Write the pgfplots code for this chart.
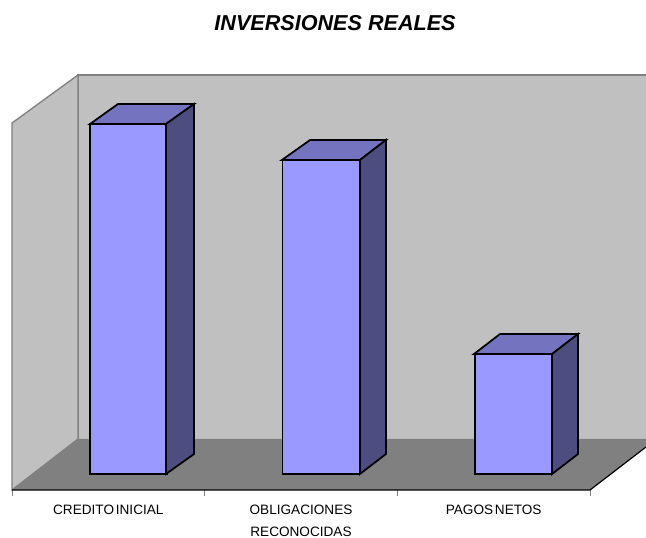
\documentclass[border=0pt]{standalone}
\usepackage{fontspec}
\setmainfont{Liberation Sans}
\usepackage{pgfplots}
\pgfplotsset{compat=1.18}
\definecolor{wall}{HTML}{C0C0C0}
\definecolor{edge}{HTML}{808080}
\definecolor{barfront}{HTML}{9999FF}
\definecolor{bartop}{HTML}{7373BF}
\definecolor{barside}{HTML}{4D4D80}

\begin{document}
\begin{tikzpicture}
% page is 646x538 px at 0.75pt per px
\path[use as bounding box] (0,0) rectangle (484.5pt,403.5pt);
\begin{axis}[
    at={(9pt,36pt)},
    anchor=south west,
    scale only axis,
    width=475.5pt,
    height=311.25pt,
    xmin=-0.5, xmax=2.7906,
    ymin=-16, ymax=399,
    clip=false,
    axis line style={draw=none},
    ytick=\empty,
    xtick pos=bottom,
    xtick={0,1,2},
    xticklabels={{CREDITO\hspace{-1.5pt} INICIAL},{OBLIGACIONES\\RECONOCIDAS},{PAGOS\hspace{-1.5pt} NETOS}},
    x tick label style={font=\fontsize{10.2}{16.5}\selectfont, align=center, anchor=north, yshift=-7.5pt},
    major tick length=0pt,
    extra x ticks={-0.5,0.5,1.5,2.5},
    extra x tick labels={},
    extra x tick style={major tick length=4.5pt, tick align=outside, tick style={draw=edge, line width=0.75pt}},
    title={\textbf{\textit{INVERSIONES REALES}}},
    title style={at={(axis description cs:0.5095,1)}, anchor=center, yshift=33pt, font=\fontsize{16.2}{18}\selectfont},
]

% walls and floor
\addplot[fill=wall, draw=none] coordinates {(-0.1574,399) (2.7906,399) (2.7906,35) (-0.1574,35)} -- cycle;
\addplot[edge, line width=1pt] coordinates {(-0.1574,35) (-0.1574,399) (2.7906,399)};
\addplot[fill=wall, draw=edge, line width=1pt] coordinates {(-0.5,351) (-0.1574,399) (-0.1574,35) (-0.5,-16)} -- cycle;
\addplot[fill=edge, draw=none] coordinates {(-0.5,-16) (-0.1574,35) (2.7906,35) (2.7906,27) (2.5,-16)} -- cycle;
\addplot[black, line width=0.9pt] coordinates {(-0.5,-16) (2.5,-16) (2.7906,27)};

% bars, heights
\addplot[ybar, bar width=57.75pt, bar shift=15pt, fill=barfront, draw=black, line width=1.3pt]
    coordinates {(0,350) (1,314) (2,120)};

% depth faces
\addplot[fill=bartop, draw=black, line width=1.3pt] coordinates {(-0.095,350) (0.299,350) (0.445,370) (0.050,370)} -- cycle;
\addplot[fill=barside, draw=black, line width=1.3pt] coordinates {(0.299,0) (0.445,20) (0.445,370) (0.299,350)} -- cycle;
\addplot[fill=bartop, draw=black, line width=1.3pt] coordinates {(0.901,314) (1.306,314) (1.441,334) (1.047,334)} -- cycle;
\addplot[fill=barside, draw=black, line width=1.3pt] coordinates {(1.306,0) (1.441,20) (1.441,334) (1.306,314)} -- cycle;
\addplot[fill=bartop, draw=black, line width=1.3pt] coordinates {(1.898,120) (2.303,120) (2.438,140) (2.033,140)} -- cycle;
\addplot[fill=barside, draw=black, line width=1.3pt] coordinates {(2.303,0) (2.438,20) (2.438,140) (2.303,120)} -- cycle;
\end{axis}
\end{tikzpicture}
\end{document}
